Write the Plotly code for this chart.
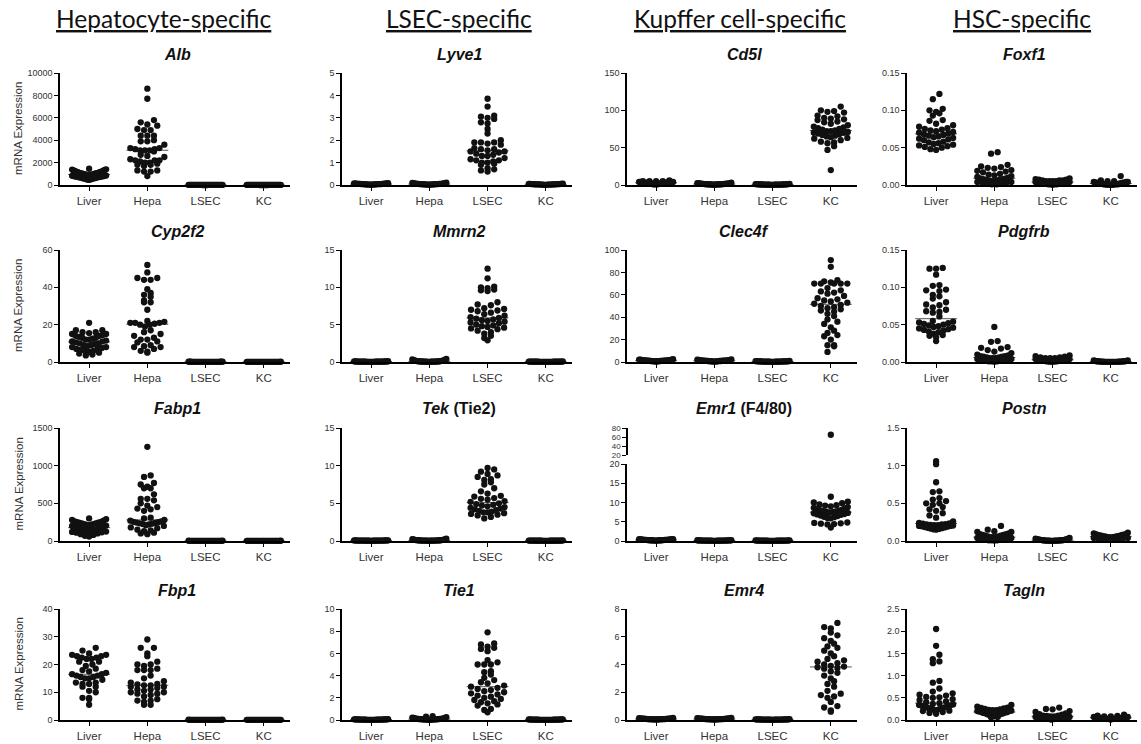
import numpy as np
import plotly.graph_objects as go

W, H = 1141, 744
CATS = ["Liver", "Hepa", "LSEC", "KC"]
HEADERS = ["Hepatocyte-specific", "LSEC-specific", "Kupffer cell-specific", "HSC-specific"]

# ---------------- data ----------------
ALB = {
    "Liver": [1450, 1400, 1380, 1350, 1300, 1280, 1250, 1220, 1200, 1180, 1150, 1120, 1100, 1080, 1060, 1050, 1030,
              1010, 1000, 990, 970, 950, 930, 910, 900, 880, 860, 840, 820, 800, 780, 760, 740, 720, 700, 680, 650,
              620, 600, 580, 550, 520, 480, 450],
    "Hepa": [8600, 7700, 5800, 5600, 5400, 5300, 5000, 4900, 4900, 4400, 4400, 4400, 4000, 3900, 3900, 3600, 3300,
             3300, 3200, 3200, 3100, 3100, 3100, 3000, 2700, 2600, 2500, 2300, 2200, 2200, 2200, 2100, 2000, 2000,
             1900, 1800, 1800, 1700, 1300, 1300, 1200, 1200, 800],
    "LSEC": [3, 5, 8, 2, 6, 4, 9, 1, 7, 5, 3, 6, 2, 8, 4, 5, 7, 3, 6, 2, 9, 4, 5, 3, 7, 6, 2, 4, 8, 5],
    "KC": [2, 4, 6, 1, 5, 3, 7, 2, 4, 6, 3, 5, 1, 6, 3, 4, 2, 5, 7, 3, 4, 2, 6, 1, 5, 3, 4, 2, 5, 3],
}
LYVE1 = {
    "Liver": [0.02, 0.03, 0.05, 0.04, 0.06, 0.03, 0.02, 0.07, 0.04, 0.05, 0.03, 0.06, 0.02, 0.04, 0.08, 0.05, 0.03,
              0.04, 0.06, 0.02, 0.05, 0.03, 0.04, 0.07, 0.03, 0.05, 0.04, 0.02, 0.06, 0.04],
    "Hepa": [0.02, 0.04, 0.06, 0.03, 0.08, 0.05, 0.02, 0.10, 0.04, 0.06, 0.03, 0.05, 0.09, 0.02, 0.04, 0.07, 0.03,
             0.05, 0.04, 0.02, 0.06, 0.03, 0.05, 0.04, 0.08, 0.03, 0.02, 0.05, 0.04, 0.03],
    "LSEC": [3.85, 3.5, 3.1, 3.05, 3.0, 2.95, 2.8, 2.75, 2.5, 2.3, 2.0, 1.9, 1.9, 1.9, 1.85, 1.8, 1.65, 1.6, 1.6,
             1.55, 1.5, 1.5, 1.45, 1.4, 1.35, 1.3, 1.3, 1.2, 1.15, 1.1, 1.1, 1.05, 1.0, 1.0, 0.95, 0.9, 0.75, 0.7,
             0.65, 0.6],
    "KC": [0.02, 0.03, 0.04, 0.02, 0.05, 0.03, 0.01, 0.04, 0.06, 0.02, 0.03, 0.05, 0.02, 0.04, 0.03, 0.01, 0.05,
           0.03, 0.02, 0.04, 0.03, 0.05, 0.02, 0.03, 0.04, 0.02, 0.03, 0.01, 0.04, 0.03],
}
CD5L = {
    "Liver": [1, 2, 3, 5, 4, 2, 6, 3, 1, 4, 2, 5, 3, 2, 4, 1, 3, 5, 2, 3, 4, 2, 1, 3, 5, 2, 4, 3, 2, 3],
    "Hepa": [0.5, 1, 2, 1.5, 0.8, 2.5, 1, 0.6, 1.8, 1.2, 2, 0.7, 1.4, 3, 1, 0.9, 1.6, 2.2, 1.1, 0.5, 1.3, 1.7,
             0.8, 2.1, 1, 1.5, 0.7, 1.2, 1.9, 1],
    "LSEC": [0.3, 0.6, 1, 0.4, 0.8, 1.2, 0.5, 0.7, 0.9, 0.3, 1.5, 0.6, 0.4, 0.8, 1.1, 0.5, 0.7, 0.3, 0.9, 0.6,
             1.3, 0.4, 0.8, 0.5, 0.6, 1, 0.4, 0.7, 0.5, 0.6],
    "KC": [105, 100, 99, 98, 97, 93, 92, 90, 89, 88, 87, 85, 84, 82, 80, 78, 77, 76, 75, 74, 73, 72, 72, 71, 70,
           70, 69, 68, 67, 66, 65, 64, 63, 62, 60, 58, 57, 56, 52, 47, 20],
}
FOXF1 = {
    "Liver": [0.122, 0.115, 0.102, 0.100, 0.098, 0.096, 0.093, 0.087, 0.086, 0.082, 0.080, 0.078, 0.076, 0.075,
              0.074, 0.073, 0.072, 0.071, 0.070, 0.069, 0.068, 0.067, 0.066, 0.065, 0.064, 0.063, 0.062, 0.061,
              0.060, 0.058, 0.057, 0.056, 0.055, 0.054, 0.053, 0.052, 0.051, 0.050, 0.048, 0.047],
    "Hepa": [0.044, 0.042, 0.027, 0.025, 0.024, 0.023, 0.022, 0.020, 0.019, 0.018, 0.017, 0.015, 0.014, 0.013,
             0.012, 0.011, 0.010, 0.009, 0.009, 0.008, 0.008, 0.007, 0.007, 0.006, 0.006, 0.005, 0.005, 0.004,
             0.004, 0.003, 0.003, 0.002, 0.002, 0.001, 0.001],
    "LSEC": [0.009, 0.008, 0.007, 0.007, 0.006, 0.006, 0.006, 0.005, 0.005, 0.005, 0.005, 0.004, 0.004, 0.004,
             0.004, 0.003, 0.003, 0.003, 0.003, 0.002, 0.002, 0.002, 0.002, 0.001, 0.001, 0.001, 0.001, 0.0005],
    "KC": [0.012, 0.006, 0.005, 0.005, 0.004, 0.004, 0.004, 0.003, 0.003, 0.003, 0.003, 0.002, 0.002, 0.002,
           0.002, 0.002, 0.001, 0.001, 0.001, 0.001, 0.001, 0.0005, 0.0005, 0.0005, 0.0003, 0.0003],
}
CYP2F2 = {
    "Liver": [21, 17, 17, 16, 16, 15.5, 15, 15, 14.5, 14, 14, 13.5, 13, 13, 12.5, 12, 12, 11.5, 11, 11, 10.5, 10,
              10, 9.5, 9, 9, 8.5, 8, 8, 7.5, 7, 7, 6.5, 6, 6, 5.5, 5, 4.5, 4, 3.5],
    "Hepa": [52, 48, 45, 45, 44, 44, 39, 37, 36, 35, 33, 32, 32, 28, 22, 21.5, 21, 21, 21, 20.5, 20, 20, 19, 17,
             16, 15, 14, 13, 12, 12, 11, 10.5, 9, 8.5, 8, 8, 7, 6, 5.5, 5],
    "LSEC": [0.05, 0.1, 0.2, 0.08, 0.15, 0.03, 0.12, 0.06, 0.18, 0.09, 0.04, 0.14, 0.07, 0.11, 0.02, 0.16, 0.05,
             0.1, 0.08, 0.13, 0.04, 0.09, 0.06, 0.12, 0.03, 0.07, 0.1, 0.05, 0.08, 0.06],
    "KC": [0.04, 0.08, 0.12, 0.06, 0.1, 0.02, 0.09, 0.05, 0.14, 0.07, 0.03, 0.11, 0.06, 0.08, 0.02, 0.1, 0.04,
           0.07, 0.05, 0.09, 0.03, 0.06, 0.08, 0.04, 0.05, 0.07, 0.03, 0.06, 0.04, 0.05],
}
MMRN2 = {
    "Liver": [0.03, 0.05, 0.08, 0.04, 0.06, 0.02, 0.07, 0.05, 0.1, 0.04, 0.03, 0.06, 0.05, 0.08, 0.02, 0.04, 0.07,
              0.05, 0.03, 0.06, 0.04, 0.09, 0.05, 0.03, 0.06, 0.04, 0.05, 0.07, 0.03, 0.05],
    "Hepa": [0.4, 0.35, 0.3, 0.25, 0.2, 0.18, 0.15, 0.12, 0.1, 0.1, 0.08, 0.08, 0.07, 0.06, 0.06, 0.05, 0.05, 0.04,
             0.04, 0.03, 0.03, 0.02, 0.12, 0.09, 0.07, 0.05, 0.04, 0.22, 0.14, 0.06],
    "LSEC": [12.5, 11.2, 10.1, 10.0, 9.9, 9.7, 9.6, 9.5, 8.0, 7.7, 7.6, 7.2, 7.1, 7.0, 6.9, 6.8, 6.6, 6.4, 6.2,
             6.0, 5.9, 5.8, 5.7, 5.6, 5.5, 5.4, 5.3, 5.2, 5.0, 4.9, 4.8, 4.7, 4.6, 4.5, 4.4, 4.2, 4.0, 3.8, 3.5,
             3.2, 2.9],
    "KC": [0.03, 0.04, 0.06, 0.02, 0.05, 0.03, 0.07, 0.04, 0.02, 0.05, 0.03, 0.06, 0.04, 0.02, 0.05, 0.03, 0.04,
           0.06, 0.02, 0.04, 0.03, 0.05, 0.04, 0.02, 0.03, 0.05, 0.04, 0.03, 0.06, 0.04],
}
CLEC4F = {
    "Liver": [0.5, 1.0, 1.5, 2.0, 0.8, 1.2, 1.8, 0.6, 1.4, 2.2, 0.9, 1.1, 1.6, 0.7, 1.3, 2.5, 1.0, 0.5, 1.7, 1.2,
              0.8, 1.5, 1.9, 0.6, 1.1, 1.4, 0.9, 2.1, 1.0, 1.3],
    "Hepa": [0.4, 0.9, 1.3, 1.8, 0.6, 1.1, 1.5, 0.5, 1.2, 2.3, 0.8, 1.0, 1.4, 0.6, 1.1, 1.7, 0.9, 0.4, 1.6, 1.0,
             0.7, 1.3, 2.0, 0.5, 0.9, 1.2, 0.8, 1.9, 1.0, 1.1],
    "LSEC": [0.2, 0.4, 0.6, 0.3, 0.5, 0.8, 0.2, 0.4, 0.7, 0.3, 0.5, 0.9, 0.3, 0.4, 0.6, 0.2, 0.5, 0.3, 0.7, 0.4,
             0.3, 0.6, 0.2, 0.5, 0.4, 0.3, 0.6, 0.4, 0.5, 0.3],
    "KC": [91, 85, 73, 72, 71, 70, 70, 70, 70, 70, 66, 64, 63, 62, 61, 59, 57, 56, 55, 54, 53, 52, 51, 50, 49, 48,
           47, 46, 45, 43, 41, 38, 36, 34, 31, 28, 26, 24, 23, 20, 15, 15, 14, 9],
}
PDGFRB = {
    "Liver": [0.126, 0.125, 0.125, 0.117, 0.103, 0.102, 0.097, 0.096, 0.095, 0.090, 0.088, 0.085, 0.080, 0.077,
              0.076, 0.073, 0.070, 0.068, 0.067, 0.066, 0.061, 0.055, 0.054, 0.053, 0.052, 0.051, 0.050, 0.049,
              0.048, 0.047, 0.046, 0.045, 0.044, 0.043, 0.042, 0.041, 0.040, 0.038, 0.036, 0.035, 0.033, 0.028],
    "Hepa": [0.047, 0.028, 0.027, 0.020, 0.019, 0.018, 0.016, 0.014, 0.012, 0.010, 0.009, 0.008, 0.008, 0.007,
             0.007, 0.006, 0.006, 0.005, 0.005, 0.005, 0.004, 0.004, 0.004, 0.003, 0.003, 0.003, 0.002, 0.002,
             0.002, 0.001, 0.001, 0.001, 0.0005],
    "LSEC": [0.009, 0.008, 0.007, 0.006, 0.006, 0.005, 0.005, 0.005, 0.004, 0.004, 0.004, 0.004, 0.003, 0.003,
             0.003, 0.003, 0.002, 0.002, 0.002, 0.002, 0.002, 0.001, 0.001, 0.001, 0.001, 0.0005, 0.0005, 0.0005],
    "KC": [0.002, 0.002, 0.0015, 0.0015, 0.001, 0.001, 0.001, 0.001, 0.0008, 0.0008, 0.0006, 0.0006, 0.0005,
           0.0005, 0.0004, 0.0004, 0.0003, 0.0003, 0.0002, 0.0002, 0.0002, 0.0001, 0.0001, 0.0001, 0.0001, 0.0001],
}
FABP1 = {
    "Liver": [300, 290, 280, 270, 260, 255, 250, 245, 240, 235, 230, 225, 220, 215, 210, 205, 200, 195, 190, 185,
              180, 175, 170, 165, 160, 155, 150, 148, 145, 142, 140, 135, 130, 125, 120, 115, 110, 100, 90, 80, 70,
              60],
    "Hepa": [1250, 870, 850, 770, 750, 720, 700, 700, 620, 560, 560, 540, 500, 470, 450, 430, 420, 400, 310, 300,
             280, 270, 260, 255, 250, 245, 240, 235, 230, 225, 220, 210, 200, 180, 170, 150, 140, 130, 110, 100, 90],
    "LSEC": [1, 2, 3, 1.5, 2.5, 0.5, 2, 1, 3.5, 1.5, 0.8, 2.2, 1.2, 1.8, 0.6, 2.8, 1.4, 0.9, 2.1, 1.1, 1.6, 0.7,
             2.4, 1.3, 1.9, 0.5, 1.7, 1, 2.6, 1.2],
    "KC": [0.8, 1.6, 2.4, 1.2, 2, 0.4, 1.8, 1, 3, 1.4, 0.6, 2.2, 1.1, 1.7, 0.5, 2.6, 1.3, 0.7, 1.9, 0.9, 1.5, 0.6,
           2.1, 1.2, 1.6, 0.4, 1.4, 0.8, 2.3, 1],
}
TEK = {
    "Liver": [0.03, 0.05, 0.08, 0.04, 0.06, 0.02, 0.07, 0.05, 0.09, 0.04, 0.03, 0.06, 0.05, 0.08, 0.02, 0.04, 0.07,
              0.05, 0.03, 0.06, 0.04, 0.08, 0.05, 0.03, 0.06, 0.04, 0.05, 0.07, 0.03, 0.05],
    "Hepa": [0.3, 0.25, 0.2, 0.18, 0.15, 0.12, 0.1, 0.1, 0.08, 0.08, 0.07, 0.06, 0.06, 0.05, 0.05, 0.04, 0.04, 0.03,
             0.03, 0.02, 0.12, 0.09, 0.07, 0.05, 0.04, 0.22, 0.14, 0.06, 0.11, 0.05],
    "LSEC": [9.7, 9.5, 9.2, 8.9, 8.7, 8.5, 8.2, 8.1, 7.8, 7.5, 7.0, 6.6, 6.3, 6.0, 5.9, 5.7, 5.6, 5.5, 5.3, 5.2,
             5.0, 4.9, 4.8, 4.7, 4.6, 4.5, 4.4, 4.3, 4.2, 4.1, 4.0, 3.9, 3.8, 3.8, 3.7, 3.6, 3.5, 3.4, 3.2, 3.0],
    "KC": [0.02, 0.04, 0.06, 0.03, 0.05, 0.02, 0.07, 0.04, 0.03, 0.05, 0.02, 0.06, 0.04, 0.03, 0.05, 0.02, 0.04,
           0.06, 0.03, 0.04, 0.02, 0.05, 0.04, 0.03, 0.02, 0.05, 0.04, 0.03, 0.06, 0.04],
}
EMR1 = {
    "Liver": [0.1, 0.2, 0.3, 0.4, 0.5, 0.15, 0.25, 0.35, 0.45, 0.2, 0.3, 0.1, 0.4, 0.25, 0.35, 0.15, 0.3, 0.2,
              0.45, 0.1, 0.3, 0.25, 0.4, 0.2, 0.35, 0.15, 0.3, 0.2, 0.25, 0.3],
    "Hepa": [0.05, 0.1, 0.15, 0.2, 0.08, 0.12, 0.18, 0.06, 0.14, 0.1, 0.04, 0.16, 0.09, 0.12, 0.07, 0.2, 0.05,
             0.11, 0.13, 0.08, 0.15, 0.06, 0.1, 0.12, 0.09, 0.05, 0.14, 0.08, 0.1, 0.07],
    "LSEC": [0.04, 0.08, 0.12, 0.16, 0.06, 0.1, 0.14, 0.05, 0.11, 0.09, 0.03, 0.13, 0.07, 0.1, 0.06, 0.18, 0.04,
             0.09, 0.11, 0.07, 0.12, 0.05, 0.08, 0.1, 0.07, 0.04, 0.12, 0.06, 0.09, 0.05],
    "KC": [65, 11.5, 10.2, 10.0, 9.8, 9.5, 9.3, 9.2, 9.0, 8.8, 8.6, 8.5, 8.3, 8.1, 8.0, 7.9, 7.8, 7.7, 7.6, 7.5,
           7.4, 7.3, 7.2, 7.0, 6.9, 6.8, 6.6, 6.5, 6.3, 6.2, 6.0, 5.9, 4.8, 4.7, 4.6, 4.5, 4.4, 4.3, 3.5],
}
POSTN = {
    "Liver": [1.06, 1.02, 0.78, 0.66, 0.65, 0.57, 0.55, 0.53, 0.50, 0.50, 0.48, 0.45, 0.42, 0.40, 0.37, 0.34,
              0.31, 0.26, 0.24, 0.235, 0.23, 0.225, 0.22, 0.22, 0.215, 0.21, 0.21, 0.205, 0.20, 0.20, 0.195, 0.19,
              0.185, 0.18, 0.175, 0.17, 0.165, 0.16, 0.155, 0.15],
    "Hepa": [0.20, 0.15, 0.13, 0.12, 0.12, 0.10, 0.09, 0.09, 0.08, 0.08, 0.07, 0.07, 0.06, 0.06, 0.05, 0.05, 0.05,
             0.04, 0.04, 0.04, 0.03, 0.03, 0.03, 0.02, 0.02, 0.02, 0.01, 0.01, 0.01, 0.005],
    "LSEC": [0.04, 0.03, 0.03, 0.025, 0.02, 0.02, 0.02, 0.018, 0.015, 0.015, 0.012, 0.012, 0.01, 0.01, 0.01, 0.008,
             0.008, 0.006, 0.006, 0.005, 0.005, 0.004, 0.004, 0.003, 0.003, 0.002, 0.002, 0.001],
    "KC": [0.11, 0.10, 0.09, 0.09, 0.08, 0.08, 0.07, 0.07, 0.06, 0.06, 0.06, 0.05, 0.05, 0.05, 0.04, 0.04, 0.04,
           0.03, 0.03, 0.03, 0.02, 0.02, 0.075, 0.065, 0.055, 0.045, 0.035, 0.085],
}
FBP1 = {
    "Liver": [26, 25, 24, 23.5, 23.5, 23, 23, 22.5, 22.5, 22, 22, 21, 21, 20, 19.5, 18.5, 18, 17.5, 17, 16.5, 16.5,
              16, 16, 15.5, 15.5, 15, 15, 14.5, 13.5, 13.5, 13, 13, 12, 12, 10.5, 10, 8, 8, 7.5, 5.5],
    "Hepa": [29, 26, 26, 24, 23, 21, 20, 20, 19.5, 18.5, 18, 18, 18, 16, 15, 14, 13.5, 13, 12.8, 12.5, 12.5, 12, 12,
             11.5, 11, 11, 10.5, 10, 10, 9.5, 9.5, 9, 8.5, 7.5, 7, 7, 6.5, 5.5, 5.5],
    "LSEC": [0.02, 0.05, 0.08, 0.03, 0.06, 0.01, 0.07, 0.04, 0.1, 0.03, 0.02, 0.06, 0.05, 0.08, 0.01, 0.04, 0.07,
             0.05, 0.03, 0.06, 0.04, 0.09, 0.05, 0.02, 0.06, 0.04, 0.05, 0.07, 0.03, 0.05],
    "KC": [0.01, 0.03, 0.05, 0.02, 0.04, 0.01, 0.06, 0.03, 0.02, 0.04, 0.02, 0.05, 0.03, 0.02, 0.04, 0.01, 0.03,
           0.05, 0.02, 0.03, 0.01, 0.04, 0.03, 0.02, 0.01, 0.04, 0.03, 0.02, 0.05, 0.03],
}
TIE1 = {
    "Liver": [0.02, 0.04, 0.06, 0.03, 0.05, 0.01, 0.05, 0.03, 0.07, 0.02, 0.03, 0.04, 0.02, 0.06, 0.01, 0.03, 0.05,
              0.04, 0.02, 0.05, 0.03, 0.06, 0.04, 0.02, 0.05, 0.03, 0.04, 0.06, 0.02, 0.04],
    "Hepa": [0.35, 0.3, 0.25, 0.2, 0.18, 0.15, 0.12, 0.1, 0.1, 0.08, 0.08, 0.07, 0.06, 0.06, 0.05, 0.05, 0.04, 0.04,
             0.03, 0.03, 0.02, 0.12, 0.09, 0.07, 0.05, 0.04, 0.22, 0.14, 0.06, 0.11],
    "LSEC": [7.9, 6.9, 6.8, 6.6, 6.5, 6.4, 6.2, 5.4, 5.2, 5.0, 5.0, 5.0, 4.4, 4.3, 4.1, 3.8, 3.6, 3.4, 3.3, 3.1,
             3.0, 2.9, 2.8, 2.7, 2.6, 2.5, 2.4, 2.3, 2.2, 2.1, 2.0, 1.9, 1.8, 1.7, 1.6, 1.5, 1.4, 1.3, 1.0, 0.9,
             0.7],
    "KC": [0.02, 0.03, 0.05, 0.02, 0.04, 0.01, 0.06, 0.03, 0.02, 0.04, 0.02, 0.05, 0.03, 0.02, 0.04, 0.01, 0.03,
           0.05, 0.02, 0.03, 0.01, 0.04, 0.03, 0.02, 0.01, 0.04, 0.03, 0.02, 0.05, 0.03],
}
EMR4 = {
    "Liver": [0.05, 0.08, 0.1, 0.06, 0.12, 0.04, 0.09, 0.07, 0.15, 0.05, 0.06, 0.11, 0.08, 0.1, 0.04, 0.07, 0.09,
              0.06, 0.05, 0.08, 0.07, 0.13, 0.06, 0.05, 0.09, 0.07, 0.08, 0.1, 0.05, 0.07],
    "Hepa": [0.05, 0.08, 0.12, 0.06, 0.15, 0.04, 0.1, 0.07, 0.14, 0.05, 0.06, 0.11, 0.08, 0.09, 0.04, 0.07, 0.1,
             0.06, 0.05, 0.08, 0.07, 0.12, 0.06, 0.05, 0.09, 0.07, 0.08, 0.1, 0.05, 0.07],
    "LSEC": [0.02, 0.03, 0.05, 0.02, 0.04, 0.01, 0.04, 0.03, 0.06, 0.02, 0.03, 0.04, 0.02, 0.05, 0.01, 0.03, 0.04,
             0.03, 0.02, 0.04, 0.03, 0.05, 0.03, 0.02, 0.04, 0.03, 0.03, 0.05, 0.02, 0.03],
    "KC": [7.0, 6.7, 6.6, 6.3, 6.1, 5.9, 5.7, 5.5, 5.3, 5.2, 5.0, 4.8, 4.6, 4.4, 4.3, 4.2, 4.1, 4.0, 3.9, 3.85,
           3.8, 3.75, 3.7, 3.5, 3.4, 3.2, 3.0, 2.8, 2.6, 2.4, 2.1, 1.9, 1.8, 1.7, 1.6, 1.3, 1.0, 0.9, 0.7, 0.6],
}
TAGLN = {
    "Liver": [2.05, 1.67, 1.47, 1.37, 1.32, 1.28, 0.88, 0.84, 0.71, 0.64, 0.60, 0.57, 0.55, 0.52, 0.51, 0.50, 0.47,
              0.45, 0.42, 0.40, 0.38, 0.36, 0.35, 0.34, 0.33, 0.32, 0.31, 0.30, 0.29, 0.28, 0.27, 0.26, 0.25, 0.24,
              0.23, 0.22, 0.21, 0.20, 0.18, 0.16, 0.14],
    "Hepa": [0.34, 0.30, 0.28, 0.27, 0.26, 0.25, 0.24, 0.23, 0.22, 0.21, 0.20, 0.19, 0.18, 0.17, 0.16, 0.15, 0.14,
             0.13, 0.12, 0.11, 0.10, 0.09, 0.08, 0.07, 0.06, 0.22, 0.18, 0.15, 0.12, 0.2],
    "LSEC": [0.28, 0.25, 0.24, 0.20, 0.18, 0.15, 0.13, 0.12, 0.10, 0.09, 0.08, 0.07, 0.06, 0.05, 0.04, 0.03, 0.02,
             0.01, 0.1, 0.08, 0.06, 0.05, 0.04, 0.07, 0.03],
    "KC": [0.12, 0.10, 0.09, 0.08, 0.07, 0.06, 0.05, 0.05, 0.04, 0.03, 0.02, 0.01, 0.08, 0.06, 0.05, 0.04, 0.07,
           0.03, 0.06, 0.04, 0.05, 0.03],
}

# panel title, y max, tick values, tick format, data  (row-major)
PANELS = [
    ("<b><i>Alb</i></b>", 10000, [0, 2000, 4000, 6000, 8000, 10000], "d", ALB),
    ("<b><i>Lyve1</i></b>", 5, [0, 1, 2, 3, 4, 5], "d", LYVE1),
    ("<b><i>Cd5l</i></b>", 150, [0, 50, 100, 150], "d", CD5L),
    ("<b><i>Foxf1</i></b>", 0.15, [0, 0.05, 0.10, 0.15], ".2f", FOXF1),
    ("<b><i>Cyp2f2</i></b>", 60, [0, 20, 40, 60], "d", CYP2F2),
    ("<b><i>Mmrn2</i></b>", 15, [0, 5, 10, 15], "d", MMRN2),
    ("<b><i>Clec4f</i></b>", 100, [0, 20, 40, 60, 80, 100], "d", CLEC4F),
    ("<b><i>Pdgfrb</i></b>", 0.15, [0, 0.05, 0.10, 0.15], ".2f", PDGFRB),
    ("<b><i>Fabp1</i></b>", 1500, [0, 500, 1000, 1500], "d", FABP1),
    ("<b><i>Tek</i> (Tie2)</b>", 15, [0, 5, 10, 15], "d", TEK),
    ("<b><i>Emr1</i> (F4/80)</b>", 20, [0, 5, 10, 15, 20], "d", EMR1),
    ("<b><i>Postn</i></b>", 1.5, [0, 0.5, 1.0, 1.5], ".1f", POSTN),
    ("<b><i>Fbp1</i></b>", 40, [0, 10, 20, 30, 40], "d", FBP1),
    ("<b><i>Tie1</i></b>", 10, [0, 2, 4, 6, 8, 10], "d", TIE1),
    ("<b><i>Emr4</i></b>", 8, [0, 2, 4, 6, 8], "d", EMR4),
    ("<b><i>Tagln</i></b>", 2.5, [0, 0.5, 1.0, 1.5, 2.0, 2.5], ".1f", TAGLN),
]
EMR1_BREAK = 20
EMR1_UPPER_TICKS = [20, 40, 60, 80]

# ---------------- geometry (pixels) ----------------
COL_X0 = [60, 342, 627, 907]
ROW_Y = [(73, 185), (250, 362), (428, 541), (609, 720)]
PANEL_W = 230
XR = [-0.5, 3.45]
PX_PER_UNIT = PANEL_W / (XR[1] - XR[0])
DOT = 6.3
MAX_HALF = 17
EMR1_UP = (428, 455)
EMR1_LOW_TOP = 464

FONT = "Liberation Sans, Arial, sans-serif"
TXT = "#333333"


def swarm_offsets(vals, vmin, vmax, hpx):
    vals = np.asarray(vals, float)
    ypx = (vals - vmin) / (vmax - vmin) * hpx
    order = np.argsort(ypx)
    bins = {}
    for i in order:
        bins.setdefault(int(round(ypx[i] / DOT)), []).append(i)
    off = np.zeros(len(vals))
    for idx in bins.values():
        n = len(idx)
        if n == 1:
            continue
        s = min(DOT * 1.05, 2 * MAX_HALF / (n - 1))
        slots = sorted([(k - (n - 1) / 2) * s for k in range(n)], key=lambda t: (abs(t), t))
        for i, sl in zip(idx, slots):
            off[i] = sl
    return off / PX_PER_UNIT


def fmt(v, f):
    return str(int(v)) if f == "d" else format(v, f)


fig = go.Figure()
layout = dict(template="none", width=W, height=H, margin=dict(l=0, r=0, t=0, b=0, autoexpand=False),
              paper_bgcolor="white", plot_bgcolor="white", showlegend=False, annotations=[])

for k, (title, ymax, ticks, tfmt, data) in enumerate(PANELS):
    r, c = divmod(k, 4)
    x0 = COL_X0[c]
    ytop, ybot = ROW_Y[r]
    if k == 10:
        ytop = EMR1_LOW_TOP
    n = k + 1
    xa, ya = ("x" if n == 1 else f"x{n}"), ("y" if n == 1 else f"y{n}")
    layout["xaxis" if n == 1 else f"xaxis{n}"] = dict(
        domain=[x0 / W, (x0 + PANEL_W) / W], range=XR, anchor=ya, showgrid=False, zeroline=False,
        automargin=False, showline=True, linecolor="black", linewidth=1.5, ticks="outside", ticklen=4,
        tickwidth=1, tickcolor="black", tickvals=[0, 1, 2, 3], ticktext=CATS,
        tickfont=dict(family=FONT, size=11.5, color=TXT), fixedrange=True)
    layout["yaxis" if n == 1 else f"yaxis{n}"] = dict(
        domain=[1 - ybot / H, 1 - ytop / H], range=[0, ymax], anchor=xa, showgrid=False, zeroline=False,
        automargin=False, showline=True, linecolor="black", linewidth=1.5, ticks="outside", ticklen=4,
        tickwidth=1, tickcolor="black", tickvals=ticks, ticktext=[fmt(t, tfmt) for t in ticks],
        tickfont=dict(family=FONT, size=9, color=TXT), fixedrange=True)

    mx, my, ux, uy, lx, ly = [], [], [], [], [], []
    for gi, cat in enumerate(CATS):
        vals = np.asarray(data[cat], float)
        if k == 10:
            low = vals[vals <= EMR1_BREAK]
            up = vals[vals > EMR1_BREAK]
            off = swarm_offsets(low, 0, ymax, ybot - ytop)
            mx += list(gi + off); my += list(low)
            if len(up):
                offu = swarm_offsets(up, EMR1_BREAK, 80, EMR1_UP[1] - EMR1_UP[0])
                ux += list(gi + offu); uy += list(up)
        else:
            off = swarm_offsets(vals, 0, ymax, ybot - ytop)
            mx += list(gi + off); my += list(vals)
        med = float(np.median(vals))
        lx += [gi - 0.36, gi + 0.36, None]
        ly += [med, med, None]

    fig.add_trace(go.Scatter(x=lx, y=ly, mode="lines", line=dict(color="#555555", width=1),
                             xaxis=xa, yaxis=ya, cliponaxis=False, hoverinfo="skip"))
    fig.add_trace(go.Scatter(x=mx, y=my, mode="markers", marker=dict(size=DOT, color="#111111", line=dict(width=0)),
                             xaxis=xa, yaxis=ya, cliponaxis=False))
    if k == 10:
        layout["yaxis17"] = dict(
            domain=[1 - EMR1_UP[1] / H, 1 - EMR1_UP[0] / H], range=[EMR1_BREAK, 80], anchor="free",
            position=x0 / W, showgrid=False, zeroline=False, automargin=False, showline=True, linecolor="black",
            linewidth=1.5, ticks="outside", ticklen=4, tickwidth=1, tickcolor="black",
            tickvals=EMR1_UPPER_TICKS, ticktext=[str(t) for t in EMR1_UPPER_TICKS],
            tickfont=dict(family=FONT, size=8, color=TXT), fixedrange=True)
        fig.add_trace(go.Scatter(x=ux, y=uy, mode="markers",
                                 marker=dict(size=DOT, color="#111111", line=dict(width=0)),
                                 xaxis=xa, yaxis="y17", cliponaxis=False))

    # panel title
    layout["annotations"].append(dict(
        text=title, x=(x0 + 117) / W, y=1 - (ROW_Y[r][0] - 19) / H, xref="paper", yref="paper",
        showarrow=False, font=dict(family=FONT, size=16, color="#111111"), xanchor="center", yanchor="middle"))

# y-axis titles (first column)
for ytop, ybot in ROW_Y:
    layout["annotations"].append(dict(
        text="mRNA Expression", x=18 / W, y=1 - (ytop + ybot) / 2 / H, xref="paper", yref="paper",
        showarrow=False, textangle=-90, font=dict(family=FONT, size=11.5, color=TXT),
        xanchor="center", yanchor="middle"))

# column headers
HEADER_X = [164, 459, 740, 1022]
for hx, htxt in zip(HEADER_X, HEADERS):
    layout["annotations"].append(dict(
        text=f"<u>{htxt}</u>", x=hx / W, y=1 - 19 / H, xref="paper", yref="paper", showarrow=False,
        font=dict(family="Lato, Open Sans, sans-serif", size=24.5, color="#111111"),
        xanchor="center", yanchor="middle"))

fig.update_layout(**layout)
fig.write_html("out.html", config={"displayModeBar": False},
               post_script="document.body.style.margin='0';document.body.style.overflow='hidden';")
